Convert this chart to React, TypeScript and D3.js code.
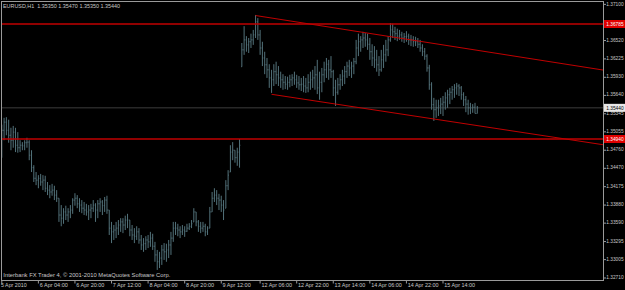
import React from "react";
import * as d3 from "d3";

const titleText = "EURUSD,H1  1.35350 1.35470 1.35350 1.35440";
const footerText = "Interbank FX Trader 4, © 2001-2010 MetaQuotes Software Corp.";

// Hourly bars, 5 Apr 2010 12:00 .. 16 Apr 2010 (index = bar number)
const highs = [
  1.3517, 1.3528, 1.3529, 1.3525, 1.3512, 1.3515, 1.3512, 1.3505, 1.3492, 1.3489,
  1.3492, 1.3496, 1.3492, 1.3476, 1.3452, 1.3441, 1.3436, 1.3438, 1.3436, 1.3435,
  1.3425, 1.342, 1.3422, 1.3419, 1.3412, 1.3399, 1.3388, 1.3383, 1.3387, 1.3383,
  1.3388, 1.3399, 1.3407, 1.3404, 1.3399, 1.3396, 1.3393, 1.339, 1.3388, 1.339,
  1.3396, 1.3391, 1.3396, 1.3399, 1.3396, 1.3401, 1.3403, 1.338, 1.3361, 1.3356,
  1.3361, 1.3364, 1.3367, 1.3367, 1.3371, 1.3374, 1.3364, 1.3356, 1.3351, 1.3354,
  1.3351, 1.334, 1.3335, 1.3338, 1.334, 1.3345, 1.3342, 1.3329, 1.3316, 1.3313,
  1.3324, 1.3327, 1.3326, 1.3332, 1.3345, 1.3361, 1.3361, 1.3358, 1.3354, 1.3356,
  1.3354, 1.3358, 1.3359, 1.3364, 1.3383, 1.3377, 1.3364, 1.3361, 1.3361, 1.3358,
  1.3354, 1.3385, 1.3409, 1.3415, 1.3412, 1.3406, 1.3403, 1.3396, 1.3428, 1.3444,
  1.3484, 1.3489, 1.3476, 1.348, 1.3494,
  1.3648, 1.3675, 1.3659, 1.3656, 1.3663,
  1.3669, 1.3693, 1.3688, 1.3669, 1.365, 1.3634, 1.3624, 1.3614, 1.3605, 1.3614,
  1.3618, 1.3611, 1.3602, 1.3598, 1.3595, 1.3594, 1.3597, 1.3598, 1.3602, 1.3597,
  1.3595, 1.3592, 1.3595, 1.3592, 1.3598, 1.3602, 1.3605, 1.3611, 1.3621, 1.3602,
  1.3608, 1.3618, 1.3624, 1.3621, 1.3627, 1.3605, 1.3589, 1.3592, 1.3598, 1.3605,
  1.3611, 1.3618, 1.3621, 1.3618, 1.3624, 1.3653, 1.3663, 1.3659, 1.3666, 1.3664,
  1.3663, 1.3656, 1.3646, 1.3643, 1.3637, 1.3627, 1.3637, 1.3645, 1.3653, 1.3659,
  1.368, 1.3679, 1.3674, 1.3671, 1.3669, 1.3666, 1.3664, 1.3667, 1.3663, 1.3661,
  1.3659, 1.3658, 1.3656, 1.3653, 1.3646, 1.364, 1.363, 1.3613, 1.3585, 1.356,
  1.3557, 1.3557, 1.356, 1.3563, 1.3569, 1.3573, 1.3576, 1.3579, 1.3582, 1.3584,
  1.3582, 1.3579, 1.3569, 1.3563, 1.3557, 1.3552, 1.355, 1.3552, 1.3547,
];

const lows = [
  1.3464, 1.3492, 1.35, 1.3488, 1.3476, 1.348, 1.3473, 1.3472, 1.3473, 1.3476,
  1.3476, 1.348, 1.346, 1.3441, 1.3425, 1.342, 1.3415, 1.3419, 1.3412, 1.3409,
  1.3404, 1.3399, 1.3403, 1.3396, 1.3393, 1.3361, 1.3354, 1.3358, 1.3364, 1.3361,
  1.3367, 1.3374, 1.3387, 1.3383, 1.3377, 1.3375, 1.3372, 1.3371, 1.3364, 1.3367,
  1.3377, 1.3361, 1.3367, 1.3377, 1.3372, 1.3377, 1.3374, 1.334, 1.3327, 1.3332,
  1.3335, 1.334, 1.3345, 1.3343, 1.3348, 1.3351, 1.3338, 1.3332, 1.3327, 1.3332,
  1.3326, 1.3316, 1.3313, 1.3316, 1.3319, 1.3321, 1.3316, 1.3297, 1.3284, 1.3287,
  1.3292, 1.33, 1.3297, 1.3303, 1.3308, 1.3329, 1.334, 1.3338, 1.3335, 1.334,
  1.3337, 1.3345, 1.3348, 1.3351, 1.3361, 1.3354, 1.3345, 1.3343, 1.3345, 1.3338,
  1.334, 1.3351, 1.3377, 1.3393, 1.3388, 1.338, 1.3377, 1.3364, 1.3383, 1.3412,
  1.3441, 1.346, 1.3456, 1.3451, 1.3448,
  1.361, 1.3629, 1.3634, 1.3632, 1.364,
  1.3645, 1.3656, 1.3653, 1.3629, 1.3611, 1.3598, 1.3592, 1.3576, 1.3568, 1.3579,
  1.3582, 1.3579, 1.3576, 1.3573, 1.3574, 1.3573, 1.3577, 1.3579, 1.3581, 1.3576,
  1.3573, 1.3571, 1.3569, 1.3568, 1.3569, 1.3573, 1.3576, 1.3573, 1.3566, 1.3557,
  1.3569, 1.3585, 1.3592, 1.3589, 1.3592, 1.3563, 1.3547, 1.3565, 1.3573, 1.3579,
  1.3582, 1.3592, 1.3595, 1.3592, 1.3598, 1.3614, 1.3627, 1.3634, 1.364, 1.3642,
  1.3637, 1.3621, 1.3611, 1.3608, 1.3602, 1.3595, 1.3602, 1.3608, 1.3618, 1.3627,
  1.365, 1.3656, 1.3653, 1.3651, 1.3653, 1.365, 1.3648, 1.365, 1.3645, 1.3643,
  1.3642, 1.3643, 1.364, 1.3634, 1.3627, 1.3621, 1.3602, 1.3573, 1.3541, 1.3523,
  1.3528, 1.3531, 1.3534, 1.3531, 1.3541, 1.3544, 1.355, 1.3557, 1.356, 1.3565,
  1.3563, 1.3557, 1.3547, 1.3537, 1.3533, 1.3534, 1.3536, 1.3535, 1.3535,
];

const closes = [
  1.3508, 1.3521, 1.3508, 1.35, 1.3492, 1.3505, 1.3484, 1.348, 1.3484, 1.3483,
  1.3488, 1.3489, 1.3468, 1.3448, 1.3431, 1.3428, 1.3431, 1.3425, 1.3428, 1.3415,
  1.3412, 1.3409, 1.3412, 1.3404, 1.3399, 1.3372, 1.3367, 1.3377, 1.3372, 1.3377,
  1.338, 1.3396, 1.3399, 1.339, 1.3388, 1.3383, 1.338, 1.3377, 1.338, 1.3383,
  1.3388, 1.338, 1.339, 1.3393, 1.3387, 1.3396, 1.338, 1.3351, 1.3345, 1.3348,
  1.3351, 1.3356, 1.3361, 1.3356, 1.3364, 1.3364, 1.3348, 1.334, 1.3338, 1.3345,
  1.3332, 1.3324, 1.3326, 1.3332, 1.3329, 1.3335, 1.3322, 1.3308, 1.3297, 1.3303,
  1.3316, 1.3313, 1.3316, 1.3324, 1.3335, 1.3351, 1.3351, 1.3348, 1.3345, 1.3348,
  1.3346, 1.3351, 1.3354, 1.3358, 1.3377, 1.3361, 1.3354, 1.3351, 1.3354, 1.3345,
  1.3351, 1.3377, 1.3399, 1.3404, 1.3399, 1.3396, 1.3388, 1.338, 1.3419, 1.3436,
  1.3473, 1.3476, 1.3464, 1.3473, 1.3484,
  1.3637, 1.3653, 1.3645, 1.365, 1.3653,
  1.3661, 1.3682, 1.3661, 1.364, 1.3624, 1.3613, 1.3605, 1.3592, 1.3589, 1.3602,
  1.3597, 1.3592, 1.3589, 1.3585, 1.3582, 1.3585, 1.3589, 1.3592, 1.3589, 1.3584,
  1.3581, 1.3582, 1.3579, 1.3576, 1.3585, 1.3589, 1.3592, 1.3597, 1.3576, 1.3585,
  1.3597, 1.3605, 1.3614, 1.3605, 1.3602, 1.3576, 1.3569, 1.3581, 1.3589, 1.3595,
  1.3602, 1.3611, 1.3608, 1.3611, 1.3618, 1.364, 1.365, 1.3653, 1.3656, 1.3653,
  1.3646, 1.3634, 1.3624, 1.3621, 1.3613, 1.3605, 1.3621, 1.3629, 1.3637, 1.3653,
  1.3669, 1.3666, 1.3663, 1.3659, 1.3661, 1.3656, 1.3658, 1.3659, 1.3653, 1.3653,
  1.365, 1.365, 1.3646, 1.364, 1.3634, 1.3627, 1.3608, 1.3581, 1.3549, 1.3541,
  1.3544, 1.3547, 1.355, 1.3553, 1.356, 1.3565, 1.3569, 1.3573, 1.3576, 1.3579,
  1.3576, 1.3565, 1.3557, 1.355, 1.3544, 1.3544, 1.3545, 1.3535, 1.3544,
];
const firstOpen = 1.348;

const priceTicks = [
  1.371, 1.3652, 1.36225, 1.3593, 1.3564, 1.35345, 1.35055, 1.3476,
  1.3447, 1.34175, 1.3388, 1.3359, 1.33295, 1.33005, 1.3271,
];
const timeLabels = [
  "5 Apr 2010", "6 Apr 04:00", "6 Apr 20:00", "7 Apr 12:00", "8 Apr 04:00",
  "8 Apr 20:00", "9 Apr 12:00", "12 Apr 06:00", "12 Apr 22:00", "13 Apr 14:00",
  "14 Apr 06:00", "14 Apr 22:00", "15 Apr 14:00",
];
const timeLabelBars = [0, 16, 32, 48, 64, 80, 96, 113, 129, 145, 161, 177, 193];

const levelLines = [1.36785, 1.3494];
const bidPrice = 1.3544;
// trend lines: [barIndex, price] anchors, extended to the right edge
const upperTrend = [[111, 1.36921], [208, 1.36363]];
const lowerTrend = [[118, 1.35657], [208, 1.35155]];

const W = 625;
const H = 290;
const L = 1.5;
const R = 603.5;
const T = 1.5;
const B = 280.5;
const FONT = "'Liberation Sans', Arial, sans-serif";
const BAR = "#527179";
const TXT = "#c8c8c8";

function AxisLabel({ yy, text, fill }: { yy: number; text: string; fill: string }) {
  return (
    <text
      transform={`translate(606.3,${yy}) scale(0.8,1)`}
      x={0} y={0} fill={fill} fontSize={6} fontFamily={FONT}
    >
      {text}
    </text>
  );
}

export default function App() {
  const x = d3.scaleLinear().domain([0, 193]).range([1.8, 443]);
  const y = d3.scaleLinear().domain([1.3271, 1.36785]).range([278, 24]);

  const bars = highs.map((h, i) => {
    const l = lows[i];
    const prev = i === 0 ? firstOpen : closes[i - 1];
    const o = Math.min(h, Math.max(l, prev));
    return { i, h, l, o, c: closes[i] };
  });

  const ray = (pts: number[][]) => {
    const [a, b] = pts;
    const x0 = x(a[0]), y0 = y(a[1]);
    const x1 = x(b[0]), y1 = y(b[1]);
    const slope = (y1 - y0) / (x1 - x0);
    return { x1: x0, y1: y0, x2: R, y2: y0 + slope * (R - x0) };
  };

  const up = ray(upperTrend);
  const lo = ray(lowerTrend);

  return (
    <svg
      width={W}
      height={H}
      style={{ position: "absolute", left: 0, top: 0, display: "block" }}
    >
      <defs>
        <clipPath id="plot">
          <rect x={L} y={T} width={R - L} height={B - T} />
        </clipPath>
      </defs>
      <rect x={0} y={0} width={W} height={H} fill="#000" />

      <g clipPath="url(#plot)">
        {/* bid line */}
        <line
          x1={L} x2={R} y1={y(bidPrice)} y2={y(bidPrice)}
          stroke="#7a7a7a" strokeWidth={1} strokeDasharray="1 1"
        />
        {/* bars */}
        <g stroke={BAR} strokeWidth={1}>
          {bars.map((d) => (
            <g key={d.i}>
              <line x1={x(d.i)} x2={x(d.i)} y1={y(d.h)} y2={y(d.l)} />
              <line x1={x(d.i) - 0.8} x2={x(d.i)} y1={y(d.o)} y2={y(d.o)} />
              <line x1={x(d.i)} x2={x(d.i) + 0.8} y1={y(d.c)} y2={y(d.c)} />
            </g>
          ))}
        </g>
        {/* horizontal levels */}
        {levelLines.map((p) => (
          <line key={p} x1={L} x2={R} y1={y(p)} y2={y(p)} stroke="#c00000" strokeWidth={1.6} />
        ))}
        {/* trend lines */}
        <line {...up} stroke="#c00000" strokeWidth={1} />
        <line {...lo} stroke="#c00000" strokeWidth={1} />
      </g>

      {/* frame */}
      <rect x={L} y={T} width={R - L} height={B - T} fill="none" stroke="#9a9a9a" strokeWidth={1} />

      {/* price axis */}
      {priceTicks.map((p) => (
        <g key={p}>
          <line x1={R} x2={R + 2.5} y1={y(p)} y2={y(p)} stroke="#9a9a9a" />
          <AxisLabel yy={Math.max(y(p) + 1, 6)} text={p.toFixed(5)} fill={TXT} />
        </g>
      ))}
      {levelLines.map((p) => (
        <g key={"lvl" + p}>
          <rect x={R + 0.5} y={y(p) - 4} width={W - R} height={8} fill="#e00000" />
          <AxisLabel yy={y(p) + 2.2} text={p.toFixed(5)} fill="#fff" />
        </g>
      ))}
      <rect x={R + 0.5} y={y(bidPrice) - 4} width={W - R} height={8} fill="#e8e8e8" />
      <AxisLabel yy={y(bidPrice) + 2.2} text={bidPrice.toFixed(5)} fill="#000" />

      {/* time axis */}
      {timeLabels.map((t, k) => {
        const xx = x(timeLabelBars[k]);
        return (
          <g key={t}>
            <line x1={xx} x2={xx} y1={B} y2={B + 3} stroke="#9a9a9a" />
            <text
              x={k === 0 ? 1 : xx + 1.3} y={287.4} fill={TXT} fontSize={6} fontFamily={FONT}
              textLength={t.length * 2.56} lengthAdjust="spacingAndGlyphs"
            >
              {t}
            </text>
          </g>
        );
      })}

      {/* header & footer */}
      <text
        x={3} y={8} fill={TXT} fontSize={6} fontFamily={FONT}
        textLength={117} lengthAdjust="spacingAndGlyphs" style={{ whiteSpace: "pre" }}
      >
        {titleText}
      </text>
      <text
        x={3.3} y={277.3} fill={TXT} fontSize={6} fontFamily={FONT}
        textLength={167} lengthAdjust="spacingAndGlyphs"
      >
        {footerText}
      </text>
    </svg>
  );
}
